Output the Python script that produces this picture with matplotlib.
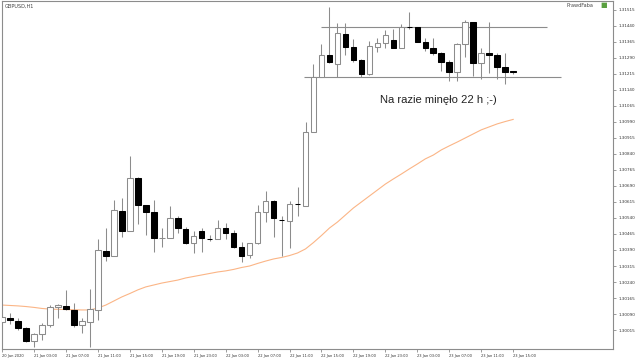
import numpy as np
import matplotlib
matplotlib.use("Agg")
import matplotlib.pyplot as plt

# GBPUSD H1 candles, 20 Jan 23:00 .. 23 Jan 15:00
opens = [1.30053, 1.30069, 1.30057, 1.30026, 1.29963, 1.29996, 1.30038, 1.30121, 1.30129, 1.30111,
         1.30038, 1.30051, 1.30109, 1.30387, 1.30363, 1.30574, 1.30481, 1.30726, 1.30601, 1.30567,
         1.30445, 1.30445, 1.30539, 1.30488, 1.30421, 1.30479, 1.30443, 1.30442, 1.30492, 1.30468,
         1.30406, 1.30367, 1.30421, 1.30567, 1.30621, 1.30532, 1.30526, 1.30607, 1.30598, 1.30945,
         1.31202, 1.31304, 1.31262, 1.31403, 1.31343, 1.31281, 1.31215, 1.31342, 1.31362, 1.31374,
         1.31336, 1.31435, 1.31434, 1.31366, 1.31338, 1.31312, 1.31273, 1.31223, 1.31354, 1.31457,
         1.31265, 1.31315, 1.31304, 1.31249, 1.31227]
highs = [1.30085, 1.30095, 1.30073, 1.30029, 1.30002, 1.30048, 1.30132, 1.30135, 1.30203, 1.30142,
         1.30070, 1.30206, 1.30440, 1.30493, 1.30624, 1.30632, 1.30831, 1.30730, 1.30603, 1.30624,
         1.30492, 1.30598, 1.30551, 1.30496, 1.30481, 1.30492, 1.30460, 1.30531, 1.30518, 1.30484,
         1.30429, 1.30424, 1.30601, 1.30668, 1.30624, 1.30549, 1.30620, 1.30684, 1.30991, 1.31261,
         1.31354, 1.31530, 1.31454, 1.31454, 1.31379, 1.31283, 1.31370, 1.31382, 1.31421, 1.31424,
         1.31449, 1.31507, 1.31435, 1.31382, 1.31382, 1.31320, 1.31281, 1.31359, 1.31468, 1.31459,
         1.31336, 1.31457, 1.31315, 1.31312, 1.31229]
lows = [1.30048, 1.30043, 1.30015, 1.29961, 1.29937, 1.29968, 1.30028, 1.30070, 1.30109, 1.30029,
        1.30001, 1.29937, 1.30062, 1.30340, 1.30362, 1.30450, 1.30479, 1.30511, 1.30460, 1.30382,
        1.30406, 1.30444, 1.30471, 1.30418, 1.30377, 1.30382, 1.30434, 1.30440, 1.30440, 1.30398,
        1.30335, 1.30351, 1.30420, 1.30523, 1.30450, 1.30362, 1.30398, 1.30549, 1.30594, 1.30944,
        1.31201, 1.31265, 1.31202, 1.31304, 1.31273, 1.31202, 1.31208, 1.31318, 1.31336, 1.31337,
        1.31335, 1.31426, 1.31365, 1.31324, 1.31304, 1.31231, 1.31184, 1.31184, 1.31296, 1.31207,
        1.31192, 1.31218, 1.31192, 1.31168, 1.31215]
closes = [1.30076, 1.30062, 1.30026, 1.29963, 1.29996, 1.30038, 1.30121, 1.30131, 1.30112, 1.30038,
          1.30056, 1.30112, 1.30390, 1.30363, 1.30578, 1.30481, 1.30726, 1.30601, 1.30567, 1.30445,
          1.30446, 1.30539, 1.30492, 1.30424, 1.30457, 1.30445, 1.30440, 1.30492, 1.30471, 1.30406,
          1.30362, 1.30421, 1.30567, 1.30621, 1.30539, 1.30529, 1.30604, 1.30604, 1.30945, 1.31202,
          1.31304, 1.31270, 1.31406, 1.31342, 1.31279, 1.31215, 1.31345, 1.31359, 1.31398, 1.31339,
          1.31437, 1.31433, 1.31366, 1.31338, 1.31312, 1.31273, 1.31223, 1.31354, 1.31457, 1.31265,
          1.31315, 1.31304, 1.31246, 1.31226, 1.31225]
# moving average (orange line)
ma = [1.30132, 1.30130, 1.30128, 1.30125, 1.30121, 1.30116, 1.30113, 1.30112, 1.30111, 1.30110,
      1.30109, 1.30109, 1.30118, 1.30132, 1.30151, 1.30170, 1.30186, 1.30203, 1.30217, 1.30226,
      1.30235, 1.30242, 1.30249, 1.30259, 1.30266, 1.30273, 1.30280, 1.30287, 1.30292, 1.30299,
      1.30308, 1.30315, 1.30327, 1.30338, 1.30348, 1.30355, 1.30364, 1.30376, 1.30395, 1.30425,
      1.30458, 1.30493, 1.30521, 1.30554, 1.30587, 1.30615, 1.30643, 1.30671, 1.30699, 1.30723,
      1.30746, 1.30770, 1.30793, 1.30817, 1.30835, 1.30859, 1.30878, 1.30896, 1.30915, 1.30934,
      1.30953, 1.30967, 1.30981, 1.30992, 1.31002]

# range lines drawn by hand: level, start bar, end bar
range_levels = [1.31435, 1.31202]
range_start = [39.9, 37.75]
range_end = [68.25, 70.0]

time_labels = ["20 Jan 2020", "21 Jan 03:00", "21 Jan 07:00", "21 Jan 11:00", "21 Jan 15:00",
               "21 Jan 19:00", "21 Jan 23:00", "22 Jan 03:00", "22 Jan 07:00", "22 Jan 11:00",
               "22 Jan 15:00", "22 Jan 19:00", "22 Jan 23:00", "23 Jan 03:00", "23 Jan 07:00",
               "23 Jan 11:00", "23 Jan 15:00"]
price_ticks = [1.30015, 1.30090, 1.30165, 1.30240, 1.30315, 1.30390, 1.30465, 1.30540, 1.30615,
               1.30690, 1.30765, 1.30840, 1.30915, 1.30990, 1.31065, 1.31140, 1.31215, 1.31290,
               1.31365, 1.31440, 1.31515]

o = np.array(opens); h = np.array(highs); l = np.array(lows); c = np.array(closes)
x = np.arange(len(o))
up = c >= o

fig = plt.figure(figsize=(6.4, 3.6), dpi=100)
ax = fig.add_axes([2/640, 11/360, 611/640, 348/360])

grey = '#8c8c8c'
ax.vlines(x, l, h, color=grey, lw=0.75, zorder=2)
body_lo = np.minimum(o, c)
body_h = np.maximum(np.abs(c - o), 0.000012)
ax.bar(x[up], body_h[up], bottom=body_lo[up], width=0.7, color='white',
       edgecolor=grey, linewidth=0.75, zorder=3)
ax.bar(x[~up], body_h[~up], bottom=body_lo[~up], width=0.7, color='black',
       edgecolor='black', linewidth=0.75, zorder=3)

ax.plot(x, ma, color='#fbb586', lw=0.8, zorder=1)
ax.hlines(range_levels, range_start, range_end, color=grey, lw=0.8, zorder=1)

ax.text(54.6, 1.31093, "Na razie minęło 22 h ;-)", fontsize=8.1, family='Liberation Sans',
        color='#222222', ha='center', va='center')
ax.text(0.004, 0.993, "GBPUSD,H1", transform=ax.transAxes, fontsize=3.6,
        color='#444444', ha='left', va='top')
ax.text(0.968, 0.993, "PrawdFaba", transform=ax.transAxes, fontsize=3.6,
        color='#444444', ha='right', va='top')
ax.text(0.985, 0.996, "■", transform=ax.transAxes, fontsize=5,
        color='#5aa040', ha='center', va='top')

ax.set_xlim(0.125, 76.5)
ax.set_ylim(1.29926, 1.31557)

ax.yaxis.tick_right()
ax.set_yticks(price_ticks)
ax.set_yticklabels([f"{p:.5f}" for p in price_ticks])
ax.set_xticks(x[::4])
ax.set_xticklabels(time_labels, ha='left')
ax.tick_params(axis='y', direction='out', length=2.5, width=0.6, color=grey,
               labelsize=3.0, pad=1.2, labelcolor='#333333')
ax.tick_params(axis='x', direction='out', length=2, width=0.6, color=grey,
               labelsize=2.6, pad=1.5, labelcolor='#333333')
for s in ax.spines.values():
    s.set_color(grey)
    s.set_linewidth(0.8)

fig.savefig("out.png", dpi=100)
